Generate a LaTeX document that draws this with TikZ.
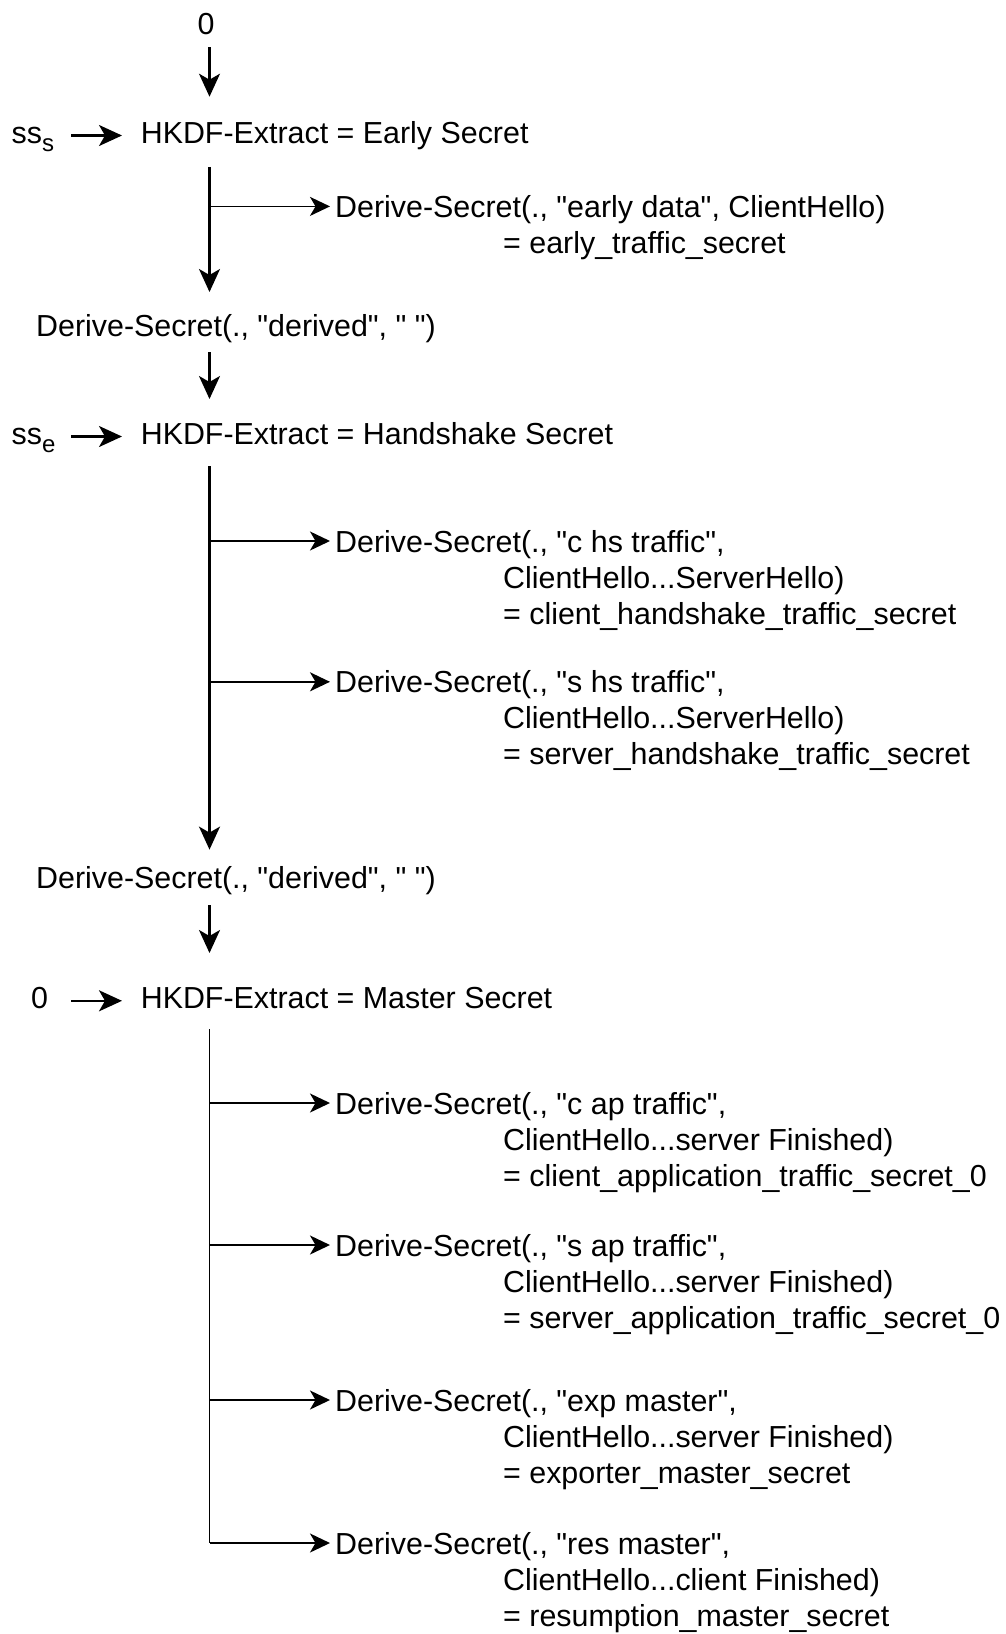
\documentclass[tikz,border=0pt]{standalone}
\usepackage{fontspec}
\setmainfont{Liberation Sans}[Ligatures=TeXOff]
\usetikzlibrary{arrows.meta}
% indentation of the continuation lines of a Derive-Secret label
\newcommand{\dsindent}{\hspace*{168pt}}
\newcommand{\dslabel}[3]{\begin{tabular}[t]{@{}l@{}}#1\\\dsindent #2\\\dsindent #3\end{tabular}}
\begin{document}
\begin{tikzpicture}[x=1pt,y=-1pt,
  lbl/.style={inner sep=0pt, anchor=base west, font=\fontsize{30.4}{36}\selectfont},
  flow/.style={line width=2.2pt, -{Stealth[length=23pt,width=21pt,inset=6pt]}},
  trunk/.style={line width=1.8pt},
  branch/.style={line width=1.8pt, -{Stealth[length=20pt,width=19pt,inset=5.5pt]}},
]
\useasboundingbox (0,0) rectangle (1006,1634);

% ---------- Early Secret ----------
\node[lbl, anchor=base] (zeroA) at (206,34) {0};
\node[lbl] (ssS) at (11.5,143) {ss\raisebox{-8pt}{\fontsize{24}{24}\selectfont s}};
\node[lbl] (early) at (140.6,143) {HKDF-Extract = Early Secret};

\coordinate (a0s) at (209.5,47);
\coordinate (a0e) at (209.5,96.7);
\draw[flow] (a0s) -- (a0e);
\coordinate (ssSs) at (71,135.5);
\coordinate (ssSe) at (122,135.5);
\draw[flow] (ssSs) -- (ssSe);

\coordinate (t1s) at (209.5,166.8);
\coordinate (t1e) at (209.5,292);
\draw[flow] (t1s) -- (t1e);

\node[lbl] (ets) at (335,217.4)
  {\begin{tabular}[t]{@{}l@{}}Derive-Secret(., "early data", ClientHello)\\\dsindent= early\_traffic\_secret\end{tabular}};
\coordinate (b1) at (209.5,206.4);
\draw[branch] (b1) -- ([xshift=-5pt]ets.west |- b1);

% ---------- Handshake Secret ----------
\node[lbl] (derA) at (36,336) {Derive-Secret(., "derived", " ")};
\coordinate (a1s) at (209.5,352);
\coordinate (a1e) at (209.5,399);
\draw[flow] (a1s) -- (a1e);

\node[lbl] (ssE) at (11.5,444.5) {ss\raisebox{-8pt}{\fontsize{24}{24}\selectfont e}};
\node[lbl] (hs) at (140.6,444.5) {HKDF-Extract = Handshake Secret};
\coordinate (ssEs) at (71,436.5);
\coordinate (ssEe) at (122,436.5);
\draw[flow] (ssEs) -- (ssEe);

\coordinate (t2s) at (209.5,466);
\coordinate (t2e) at (209.5,849.6);
\draw[flow] (t2s) -- (t2e);

\node[lbl] (chts) at (335,552)
  {\dslabel{Derive-Secret(., "c hs traffic",}{ClientHello...ServerHello)}{= client\_handshake\_traffic\_secret}};
\node[lbl] (shts) at (335,692.8)
  {\dslabel{Derive-Secret(., "s hs traffic",}{ClientHello...ServerHello)}{= server\_handshake\_traffic\_secret}};
\coordinate (b2) at (209.5,541);
\coordinate (b3) at (209.5,681.8);
\draw[branch] (b2) -- ([xshift=-5pt]chts.west |- b2);
\draw[branch] (b3) -- ([xshift=-5pt]shts.west |- b3);

% ---------- Master Secret ----------
\node[lbl] (derB) at (36,888.5) {Derive-Secret(., "derived", " ")};
\coordinate (a2s) at (209.5,905);
\coordinate (a2e) at (209.5,953);
\draw[flow] (a2s) -- (a2e);

\node[lbl, anchor=base] (zeroB) at (39.6,1008.5) {0};
\node[lbl] (ms) at (140.6,1008.5) {HKDF-Extract = Master Secret};
\coordinate (zBs) at (71,1000.8);
\coordinate (zBe) at (122,1000.8);
\draw[flow] (zBs) -- (zBe);

\node[lbl] (cats) at (335,1114)
  {\dslabel{Derive-Secret(., "c ap traffic",}{ClientHello...server Finished)}{= client\_application\_traffic\_secret\_0}};
\node[lbl] (sats) at (335,1256)
  {\dslabel{Derive-Secret(., "s ap traffic",}{ClientHello...server Finished)}{= server\_application\_traffic\_secret\_0}};
\node[lbl] (ems) at (335,1411)
  {\dslabel{Derive-Secret(., "exp master",}{ClientHello...server Finished)}{= exporter\_master\_secret}};
\node[lbl] (rms) at (335,1554)
  {\dslabel{Derive-Secret(., "res master",}{ClientHello...client Finished)}{= resumption\_master\_secret}};

\coordinate (t3s) at (209.5,1029);
\coordinate (b4) at (209.5,1103);
\coordinate (b5) at (209.5,1245);
\coordinate (b6) at (209.5,1400);
\coordinate (b7) at (209.5,1543);
\draw[trunk] (t3s) -- (b7);
\draw[branch] (b4) -- ([xshift=-5pt]cats.west |- b4);
\draw[branch] (b5) -- ([xshift=-5pt]sats.west |- b5);
\draw[branch] (b6) -- ([xshift=-5pt]ems.west |- b6);
\draw[branch] (b7) -- ([xshift=-5pt]rms.west |- b7);
\end{tikzpicture}
\end{document}
